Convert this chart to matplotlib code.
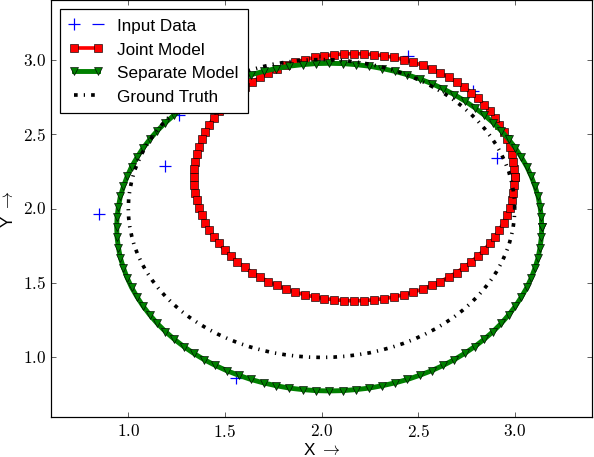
import matplotlib
matplotlib.use('Agg')
import matplotlib.pyplot as plt
from matplotlib.lines import Line2D
from matplotlib.legend_handler import HandlerBase
from matplotlib.ticker import FormatStrFormatter, MultipleLocator

# noisy observations
input_x = [0.85, 1.19, 1.264, 1.56, 2.45, 2.785, 2.906]
input_y = [1.96, 2.285, 2.63, 0.861, 3.024, 2.79, 2.336]

joint_x = [3.000, 2.998, 2.993, 2.985, 2.974, 2.959, 2.942, 2.921, 2.897, 2.871, 2.841, 2.810, 2.775,
           2.738, 2.699, 2.658, 2.615, 2.570, 2.523, 2.476, 2.426, 2.376, 2.326, 2.274, 2.222, 2.170,
           2.118, 2.066, 2.014, 1.964, 1.914, 1.864, 1.817, 1.770, 1.725, 1.682, 1.641, 1.602, 1.565,
           1.530, 1.499, 1.469, 1.443, 1.419, 1.398, 1.381, 1.366, 1.355, 1.347, 1.342, 1.340,
           1.342, 1.347, 1.355, 1.366, 1.381, 1.398, 1.419, 1.443, 1.469, 1.499, 1.530, 1.565, 1.602,
           1.641, 1.682, 1.725, 1.770, 1.817, 1.864, 1.914, 1.964, 2.014, 2.066, 2.118, 2.170,
           2.222, 2.274, 2.326, 2.376, 2.426, 2.476, 2.523, 2.570, 2.615, 2.658, 2.699, 2.738, 2.775,
           2.810, 2.841, 2.871, 2.897, 2.921, 2.942, 2.959, 2.974, 2.985, 2.993, 2.998, 3.000]
joint_y = [2.210, 2.262, 2.314, 2.366, 2.416, 2.466, 2.516, 2.563, 2.610, 2.655, 2.698, 2.739, 2.778,
           2.815, 2.850, 2.881, 2.911, 2.937, 2.961, 2.982, 2.999, 3.014, 3.025, 3.033, 3.038, 3.040,
           3.038, 3.033, 3.025, 3.014, 2.999, 2.982, 2.961, 2.937, 2.911, 2.881, 2.850, 2.815, 2.778,
           2.739, 2.698, 2.655, 2.610, 2.563, 2.516, 2.466, 2.416, 2.366, 2.314, 2.262, 2.210,
           2.158, 2.106, 2.054, 2.004, 1.954, 1.904, 1.857, 1.810, 1.765, 1.722, 1.681, 1.642, 1.605,
           1.570, 1.539, 1.509, 1.483, 1.459, 1.438, 1.421, 1.406, 1.395, 1.387, 1.382, 1.380,
           1.382, 1.387, 1.395, 1.406, 1.421, 1.438, 1.459, 1.483, 1.509, 1.539, 1.570, 1.605, 1.642,
           1.681, 1.722, 1.765, 1.810, 1.857, 1.904, 1.954, 2.004, 2.054, 2.106, 2.158, 2.210]

sep_x = [3.140, 3.138, 3.131, 3.121, 3.105, 3.086, 3.063, 3.035, 3.004, 2.969, 2.930, 2.888, 2.842,
         2.793, 2.741, 2.687, 2.629, 2.570, 2.508, 2.445, 2.380, 2.314, 2.246, 2.178, 2.109, 2.040,
         1.971, 1.902, 1.834, 1.766, 1.700, 1.635, 1.572, 1.510, 1.451, 1.393, 1.339, 1.287, 1.238,
         1.192, 1.150, 1.111, 1.076, 1.045, 1.017, 0.994, 0.975, 0.959, 0.949, 0.942, 0.940,
         0.942, 0.949, 0.959, 0.975, 0.994, 1.017, 1.045, 1.076, 1.111, 1.150, 1.192, 1.238, 1.287,
         1.339, 1.393, 1.451, 1.510, 1.572, 1.635, 1.700, 1.766, 1.834, 1.902, 1.971, 2.040,
         2.109, 2.178, 2.246, 2.314, 2.380, 2.445, 2.508, 2.570, 2.629, 2.687, 2.741, 2.793, 2.842,
         2.888, 2.930, 2.969, 3.004, 3.035, 3.063, 3.086, 3.105, 3.121, 3.131, 3.138, 3.140]
sep_y = [1.875, 1.944, 2.013, 2.081, 2.149, 2.215, 2.280, 2.343, 2.405, 2.464, 2.522, 2.576, 2.628,
         2.677, 2.723, 2.765, 2.804, 2.839, 2.870, 2.898, 2.921, 2.940, 2.956, 2.966, 2.973, 2.975,
         2.973, 2.966, 2.956, 2.940, 2.921, 2.898, 2.870, 2.839, 2.804, 2.765, 2.723, 2.677, 2.628,
         2.576, 2.522, 2.464, 2.405, 2.343, 2.280, 2.215, 2.149, 2.081, 2.013, 1.944, 1.875,
         1.806, 1.737, 1.669, 1.601, 1.535, 1.470, 1.407, 1.345, 1.286, 1.228, 1.174, 1.122, 1.073,
         1.027, 0.985, 0.946, 0.911, 0.880, 0.852, 0.829, 0.810, 0.794, 0.784, 0.777, 0.775,
         0.777, 0.784, 0.794, 0.810, 0.829, 0.852, 0.880, 0.911, 0.946, 0.985, 1.027, 1.073, 1.122,
         1.174, 1.228, 1.286, 1.345, 1.407, 1.470, 1.535, 1.601, 1.669, 1.737, 1.806, 1.875]

gt_x = [3.000, 2.998, 2.992, 2.982, 2.969, 2.951, 2.930, 2.905, 2.876, 2.844, 2.809, 2.771, 2.729,
        2.685, 2.637, 2.588, 2.536, 2.482, 2.426, 2.368, 2.309, 2.249, 2.187, 2.125, 2.063, 2.000,
        1.937, 1.875, 1.813, 1.751, 1.691, 1.632, 1.574, 1.518, 1.464, 1.412, 1.363, 1.315, 1.271,
        1.229, 1.191, 1.156, 1.124, 1.095, 1.070, 1.049, 1.031, 1.018, 1.008, 1.002, 1.000,
        1.002, 1.008, 1.018, 1.031, 1.049, 1.070, 1.095, 1.124, 1.156, 1.191, 1.229, 1.271, 1.315,
        1.363, 1.412, 1.464, 1.518, 1.574, 1.632, 1.691, 1.751, 1.813, 1.875, 1.937, 2.000,
        2.063, 2.125, 2.187, 2.249, 2.309, 2.368, 2.426, 2.482, 2.536, 2.588, 2.637, 2.685, 2.729,
        2.771, 2.809, 2.844, 2.876, 2.905, 2.930, 2.951, 2.969, 2.982, 2.992, 2.998, 3.000]
gt_y = [2.000, 2.063, 2.125, 2.187, 2.249, 2.309, 2.368, 2.426, 2.482, 2.536, 2.588, 2.637, 2.685,
        2.729, 2.771, 2.809, 2.844, 2.876, 2.905, 2.930, 2.951, 2.969, 2.982, 2.992, 2.998, 3.000,
        2.998, 2.992, 2.982, 2.969, 2.951, 2.930, 2.905, 2.876, 2.844, 2.809, 2.771, 2.729, 2.685,
        2.637, 2.588, 2.536, 2.482, 2.426, 2.368, 2.309, 2.249, 2.187, 2.125, 2.063, 2.000,
        1.937, 1.875, 1.813, 1.751, 1.691, 1.632, 1.574, 1.518, 1.464, 1.412, 1.363, 1.315, 1.271,
        1.229, 1.191, 1.156, 1.124, 1.095, 1.070, 1.049, 1.031, 1.018, 1.008, 1.002, 1.000,
        1.002, 1.008, 1.018, 1.031, 1.049, 1.070, 1.095, 1.124, 1.156, 1.191, 1.229, 1.271, 1.315,
        1.363, 1.412, 1.464, 1.518, 1.574, 1.632, 1.691, 1.751, 1.813, 1.875, 1.937, 2.000]

labels = ['Input Data', 'Joint Model', 'Separate Model', 'Ground Truth']


class PlusDashHandler(HandlerBase):
    # legend key for the data: a plus on the left, a dash on the right
    def create_artists(self, legend, orig_handle, xdescent, ydescent, width, height, fontsize, trans):
        pad = 0.3 * fontsize
        y = (height - ydescent) / 2
        plus = Line2D([pad - xdescent], [y], ls='none', marker='+', color='b', ms=10, mew=1,
                      transform=trans)
        dash = Line2D([width - xdescent - pad], [y], ls='none', marker='_', color='b', ms=10, mew=1,
                      transform=trans)
        return [plus, dash]


plt.style.use('classic')
plt.rcParams['font.family'] = ['Liberation Sans', 'DejaVu Sans']
plt.rcParams['font.size'] = 14
plt.rcParams['mathtext.fontset'] = 'cm'
plt.rcParams['lines.scale_dashes'] = False

fig = plt.figure(figsize=(594 / 88, 458 / 88), dpi=88, facecolor='white')
ax = fig.add_axes([51 / 594, 1 - 418 / 458, 541 / 594, 417 / 458])

l_in, = ax.plot(input_x, input_y, 'b+', ms=10, mew=1)
l_joint, = ax.plot(joint_x, joint_y, color='r', lw=3, marker='s', ms=6, mec='k', mew=0.5)
l_sep, = ax.plot(sep_x, sep_y, color='g', lw=4, marker='v', ms=6, mec='k', mew=0.5)
l_gt, = ax.plot(gt_x, gt_y, color='k', lw=3, ls=(0, (3, 5, 1, 5)))

ax.set_xlim(0.6, 3.4)
ax.set_ylim(0.6, 3.4)
for axis in [ax.xaxis, ax.yaxis]:
    axis.set_major_locator(MultipleLocator(0.5))
    axis.set_major_formatter(FormatStrFormatter(r'$%.1f$'))
ax.tick_params(labelsize=14)

ax.set_xlabel(r'X $\rightarrow$', fontsize=14, labelpad=2)
ax.set_ylabel(r'Y $\rightarrow$', fontsize=14)
ax.yaxis.set_label_coords(-0.064, 0.5)

ax.legend([l_in, l_joint, l_sep, l_gt], labels, loc='upper left', fontsize=14, numpoints=2,
          borderpad=0.55, handler_map={l_in: PlusDashHandler()})

fig.savefig('out.png', dpi=88, facecolor='white')
